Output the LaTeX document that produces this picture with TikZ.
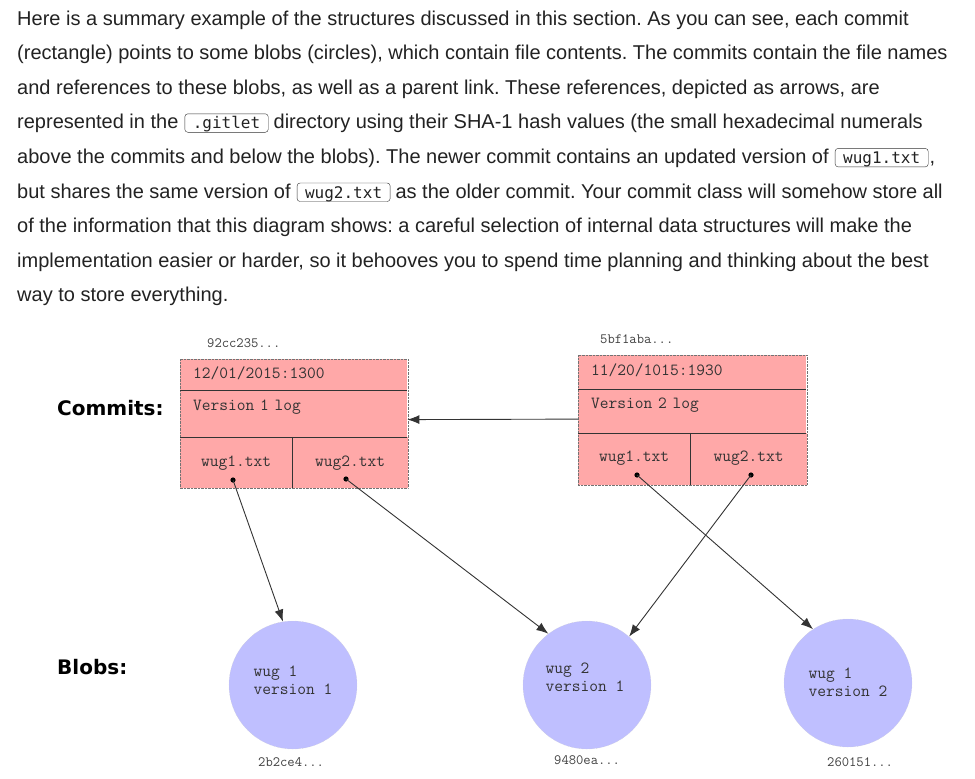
\documentclass[tikz,border=0pt]{standalone}
\usepackage{fontspec}
\setmainfont{Liberation Sans}
\newfontfamily\codefont{DejaVu Sans Mono}
\newfontfamily\headfont{DejaVu Sans}
\usetikzlibrary{positioning,arrows.meta}

\definecolor{ink}{HTML}{222222}
\definecolor{wire}{HTML}{333333}
\definecolor{commitred}{HTML}{FFA8A8}
\definecolor{blobblue}{HTML}{BFBFFF}

\tikzstyle{para}=[anchor=base west,
                  inner sep=0pt,
                  text=ink,
                  font=\fontsize{20}{20}\selectfont]
\tikzstyle{code}=[draw=wire,
                  rounded corners=3pt,
                  inner xsep=8pt,
                  inner ysep=2.5pt,
                  text height=12.5pt,
                  text depth=1pt,
                  text=ink,
                  font=\codefont\fontsize{16}{16}\selectfont]
\tikzstyle{cell}=[shape=rectangle,
                  fill=commitred,
                  inner sep=0pt,
                  text=wire,
                  text height=10pt,
                  text depth=3pt,
                  font=\ttfamily\fontsize{17}{17}\selectfont]
\tikzstyle{blob}=[shape=circle,
                  fill=blobblue,
                  draw=black!20,
                  densely dotted,
                  minimum size=128pt,
                  inner sep=0pt]
\tikzstyle{blobtxt}=[align=left,
                  inner sep=0pt,
                  text=wire,
                  font=\ttfamily\fontsize{17}{18}\selectfont]
\tikzstyle{hash}=[anchor=base west,
                  inner sep=0pt,
                  text=black!75,
                  font=\ttfamily\fontsize{14.2}{14.2}\selectfont]
\tikzstyle{head}=[anchor=base west,
                  inner sep=0pt,
                  font=\headfont\bfseries\fontsize{20}{20}\selectfont]
\tikzstyle{ref}=[->, wire, line width=0.9pt]

\begin{document}
\frenchspacing
\begin{tikzpicture}[x=1pt,y=-1pt,>={Latex[length=12pt,width=9pt]}]

\useasboundingbox (0,0) rectangle (975,779);

% paragraph
\node[para] (l1) at (17,25.0) {Here is a summary example of the structures discussed in this section. As you can see, each commit};
\node[para] (l2) at (17,59.6) {(rectangle) points to some blobs (circles), which contain file contents. The commits contain the file names};
\node[para] (l3) at (17,94.2) {and references to these blobs, as well as a parent link. These references, depicted as arrows, are};
\node[para] (l4a) at (17,128.8) {represented in the};
\node[code, base right=6pt of l4a] (l4b) {.gitlet};
\node[para, base right=5pt of l4b] (l4c) {directory using their SHA-1 hash values (the small hexadecimal numerals};
\node[para] (l5a) at (17,163.4) {above the commits and below the blobs). The newer commit contains an updated version of};
\node[code, base right=6pt of l5a] (l5b) {wug1.txt};
\node[para, base right=1pt of l5b] (l5c) {,};
\node[para] (l6a) at (17,198.0) {but shares the same version of};
\node[code, base right=6pt of l6a] (l6b) {wug2.txt};
\node[para, base right=5pt of l6b] (l6c) {as the older commit. Your commit class will somehow store all};
\node[para] (l7) at (17,232.6) {of the information that this diagram shows: a careful selection of internal data structures will make the};
\node[para] (l8) at (17,267.2) {implementation easier or harder, so it behooves you to spend time planning and thinking about the best};
\node[para] (l9) at (17,301.8) {way to store everything.};

% row labels
\node[head] (commits) at (57,415) {Commits:};
\node[head] (blobs) at (57,674) {Blobs:};

% older commit
\node[hash] (h1) at (207,347) {92cc235...};
\node[cell, anchor=north west, minimum width=227pt, minimum height=31pt,
      text width=201pt, align=left] (c1date) at (180,359) {12/01/2015:1300};
\node[cell, below=0pt of c1date, minimum width=227pt, minimum height=46pt,
      text width=201pt, align=left, text depth=16pt] (c1log) {Version 1 log};
\node[cell, anchor=north west, minimum width=112pt, minimum height=51pt,
      text depth=2pt] (c1f1) at (c1log.south west) {wug1.txt};
\node[cell, right=0pt of c1f1, minimum width=115pt, minimum height=51pt,
      text depth=2pt] (c1f2) {wug2.txt};
\draw[black!55, densely dotted] (c1date.north west) rectangle (c1f2.south east);
\draw[wire] (c1date.south west) -- (c1date.south east)
            (c1log.south west) -- (c1log.south east)
            (c1f1.north east) -- (c1f1.south east);

% newer commit
\node[hash] (h2) at (600,343) {5bf1aba...};
\node[cell, anchor=north west, minimum width=228pt, minimum height=34pt,
      text width=202pt, align=left] (c2date) at (578,355) {11/20/1015:1930};
\node[cell, below=0pt of c2date, minimum width=228pt, minimum height=43pt,
      text width=202pt, align=left, text depth=15pt] (c2log) {Version 2 log};
\node[cell, anchor=north west, minimum width=112pt, minimum height=52pt,
      text depth=5pt] (c2f1) at (c2log.south west) {wug1.txt};
\node[cell, right=0pt of c2f1, minimum width=116pt, minimum height=52pt,
      text depth=5pt] (c2f2) {wug2.txt};
\draw[black!55, densely dotted] (c2date.north west) rectangle (c2f2.south east);
\draw[wire] (c2date.south west) -- (c2date.south east)
            (c2log.south west) -- (c2log.south east)
            (c2f1.north east) -- (c2f1.south east);

% blobs
\node[blob] (b1) at (293,685) {};
\node[blob] (b2) at (587,685) {};
\node[blob] (b3) at (848,683) {};
\node[blobtxt] (b1t) at ([yshift=5pt]b1.center) {wug 1\\version 1};
\node[blobtxt] (b2t) at ([xshift=-2pt,yshift=8pt]b2.center) {wug 2\\version 1};
\node[blobtxt] (b3t) at ([yshift=1pt]b3.center) {wug 1\\version 2};
\node[hash] (h3) at (258,766) {2b2ce4...};
\node[hash] (h4) at (554,764) {9480ea...};
\node[hash] (h5) at (827,766) {260151...};

% references
\coordinate (c1d1) at (233,480);
\coordinate (c1d2) at (346,479);
\coordinate (c2d1) at (637,475);
\coordinate (c2d2) at (751,475);
\foreach \p in {c1d1,c1d2,c2d1,c2d2}
  \fill[black] (\p) circle (2.6pt);

\draw[ref] ([yshift=-8pt]c2log.west) -- ([yshift=-6pt]c1log.east);
\draw[ref] (c1d1) -- (b1.99);
\draw[ref] (c1d2) -- (b2.127);
\draw[ref] (c2d1) -- (b3.123);
\draw[ref] (c2d2) -- (b2.49);

\end{tikzpicture}
\end{document}
